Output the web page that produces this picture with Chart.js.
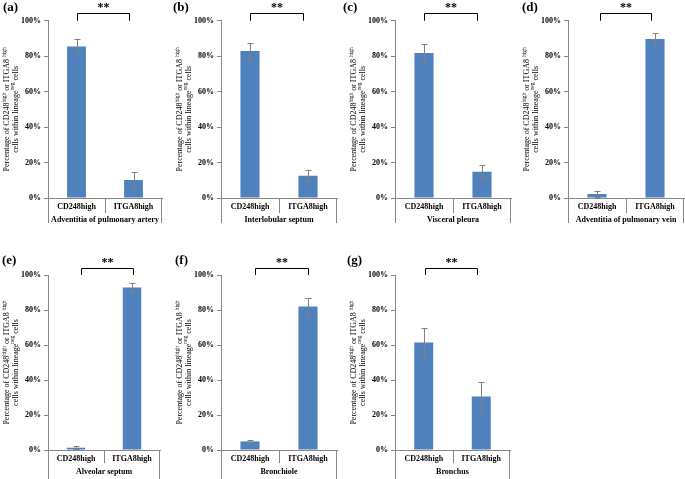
<!DOCTYPE html>
<html>
<head>
<meta charset="utf-8">
<script src="https://cdn.jsdelivr.net/npm/chart.js@4.4.1/dist/chart.umd.min.js"></script>
<style>
  html, body { margin: 0; padding: 0; background: #fff; }
  #wrap { position: relative; width: 685px; height: 479px; overflow: hidden; }
  #wrap canvas { position: absolute; }
</style>
</head>
<body>
<div id="wrap"></div>
<script>
// ---- data ----
const categories = ['CD248high', 'ITGA8high'];
const panelLetters = ['(a)', '(b)', '(c)', '(d)', '(e)', '(f)', '(g)'];
const regionNames = [
    'Adventitia of pulmonary artery',
    'Interlobular septum',
    'Visceral pleura',
    'Adventitia of pulmonary vein',
    'Alveolar septum',
    'Bronchiole',
    'Bronchus'
];
const cd248Mean = [85.5, 82.9, 81.8, 2.3, 1.3, 4.9, 61.5];
const cd248Err  = [4.2, 4.8, 5.1, 1.9, 0.8, 1.1, 8.5];
const itga8Mean = [10.2, 12.6, 14.8, 89.7, 92.8, 82.0, 30.6];
const itga8Err  = [4.3, 3.2, 3.6, 3.1, 2.4, 5.0, 8.3];
const significance = ['**', '**', '**', '**', '**', '**', '**'];
const yTicks = [0, 20, 40, 60, 80, 100];

// ---- where each panel sits on the page (canvas-local plot edges) ----
const panelBoxes = [
    { left: 0,   top: 0,   width: 170, height: 235, axisX: 48, plotRight: 162, plotTop: 20.7, plotBottom: 198, letterX: 3, bracket: [0.7, -4.3] },
    { left: 170, top: 0,   width: 172, height: 235, axisX: 51, plotRight: 167, plotTop: 20.7, plotBottom: 198, letterX: 3, bracket: [0, -4.7] },
    { left: 342, top: 0,   width: 172, height: 235, axisX: 53, plotRight: 169, plotTop: 20.7, plotBottom: 198, letterX: 1, bracket: [0, -5.5] },
    { left: 514, top: 0,   width: 171, height: 235, axisX: 54, plotRight: 170, plotTop: 20.7, plotBottom: 198, letterX: 8, bracket: [2.7, -4] },
    { left: 0,   top: 235, width: 170, height: 244, axisX: 48, plotRight: 160, plotTop: 40, plotBottom: 215, letterX: 2, bracket: [5, 0.7] },
    { left: 170, top: 235, width: 172, height: 244, axisX: 51, plotRight: 167, plotTop: 40, plotBottom: 215, letterX: 5, bracket: [5, 0] },
    { left: 342, top: 235, width: 172, height: 244, axisX: 53, plotRight: 168, plotTop: 40, plotBottom: 215, letterX: 5, bracket: [1.7, -4.3] }
];

const SERIF = "'Liberation Serif', 'DejaVu Serif', serif";
const AXIS_GREY = '#868686';
const BAR_BLUE = '#4F81BD';

// y title pieces (with superscripts)
const titleLine1 = [
    { t: 'Percentage of CD248', sup: false },
    { t: 'high', sup: true },
    { t: ' or ITGA8 ', sup: false },
    { t: 'high', sup: true }
];
const titleLine2 = [
    { t: 'cells within lineage', sup: false },
    { t: 'neg', sup: true },
    { t: ' cells', sup: false }
];

function drawRich(ctx, parts, y) {
    const big = '8px ' + SERIF;
    const small = '5.5px ' + SERIF;
    let total = 0;
    parts.forEach(p => {
        ctx.font = p.sup ? small : big;
        total += ctx.measureText(p.t).width;
    });
    let x = -total / 2;
    parts.forEach(p => {
        ctx.font = p.sup ? small : big;
        ctx.fillText(p.t, x, p.sup ? y - 2.5 : y);
        x += ctx.measureText(p.t).width;
    });
}

// extra drawing: error bars, category box, bracket, titles
function makeDecor(idx) {
    const box = panelBoxes[idx];
    const errs = [cd248Err[idx], itga8Err[idx]];
    return {
        id: 'decor' + idx,
        afterDatasetsDraw(chart) {
            const ctx = chart.ctx;
            const ys = chart.scales.y;
            const meta = chart.getDatasetMeta(0);
            const vals = chart.data.datasets[0].data;
            ctx.save();
            ctx.strokeStyle = '#808080';
            ctx.lineWidth = 1;
            meta.data.forEach((bar, i) => {
                const x = Math.round(bar.x) + 0.5;
                const yt = Math.round(ys.getPixelForValue(vals[i] + errs[i])) + 0.5;
                const yb = Math.round(ys.getPixelForValue(Math.max(vals[i] - errs[i], 0))) + 0.5;
                ctx.beginPath();
                ctx.moveTo(x, yt); ctx.lineTo(x, yb);
                ctx.moveTo(x - 3, yt); ctx.lineTo(x + 3, yt);
                ctx.moveTo(x - 3, yb); ctx.lineTo(x + 3, yb);
                ctx.stroke();
            });
            ctx.restore();
        },
        afterDraw(chart) {
            const ctx = chart.ctx;
            const area = chart.chartArea;
            const meta = chart.getDatasetMeta(0);
            const x0 = meta.data[0].x, x1 = meta.data[1].x;
            const topRow = box.top === 0;
            ctx.save();

            // category box lines below the x axis
            ctx.strokeStyle = AXIS_GREY;
            ctx.lineWidth = 1;
            const sepX = Math.round((x0 + x1) / 2) + 0.5;
            const outer = topRow ? 25 : 29;
            ctx.beginPath();
            ctx.moveTo(sepX, area.bottom); ctx.lineTo(sepX, area.bottom + (topRow ? 15 : 13));
            ctx.moveTo(Math.round(area.left) + 0.5, area.bottom); ctx.lineTo(Math.round(area.left) + 0.5, area.bottom + outer);
            ctx.moveTo(Math.round(area.right) - 0.5, area.bottom); ctx.lineTo(Math.round(area.right) - 0.5, area.bottom + outer);
            ctx.stroke();

            // region name
            ctx.fillStyle = '#000';
            ctx.font = 'bold 8px ' + SERIF;
            ctx.textAlign = 'center';
            ctx.textBaseline = 'middle';
            ctx.fillText(regionNames[idx], (area.left + area.right) / 2, area.bottom + 22);

            // significance bracket
            const bl = Math.round(x0 + box.bracket[0]) + 0.5;
            const br = Math.round(x1 + box.bracket[1]) + 0.5;
            const by = Math.round(area.top - 7.4) + 0.5;
            ctx.strokeStyle = '#000';
            ctx.beginPath();
            ctx.moveTo(bl, area.top); ctx.lineTo(bl, by); ctx.lineTo(br, by); ctx.lineTo(br, area.top);
            ctx.stroke();
            ctx.font = 'bold 12px ' + SERIF;
            ctx.fillText(significance[idx], (bl + br) / 2, by - 6);

            // panel letter
            ctx.font = 'bold 13px ' + SERIF;
            ctx.textAlign = 'left';
            ctx.fillText(panelLetters[idx], box.letterX, topRow ? 8 : 26);

            // rotated y title, two lines
            ctx.translate(area.left - 37, (area.top + area.bottom) / 2);
            ctx.rotate(-Math.PI / 2);
            ctx.textAlign = 'left';
            drawRich(ctx, titleLine1, -4);
            drawRich(ctx, titleLine2, 4.5);
            ctx.restore();
        }
    };
}

const wrap = document.getElementById('wrap');
panelBoxes.forEach((box, idx) => {
    const cv = document.createElement('canvas');
    cv.width = box.width;
    cv.height = box.height;
    cv.style.left = box.left + 'px';
    cv.style.top = box.top + 'px';
    cv.style.width = box.width + 'px';
    cv.style.height = box.height + 'px';
    wrap.appendChild(cv);

    new Chart(cv.getContext('2d'), {
        type: 'bar',
        data: {
            labels: categories,
            datasets: [{
                data: [cd248Mean[idx], itga8Mean[idx]],
                backgroundColor: BAR_BLUE,
                borderWidth: 0,
                categoryPercentage: 1,
                barPercentage: 0.33
            }]
        },
        options: {
            responsive: false,
            animation: false,
            devicePixelRatio: 1,
            layout: {
                padding: { left: 0, top: box.plotTop, right: box.width - box.plotRight, bottom: 0 }
            },
            plugins: {
                legend: { display: false },
                tooltip: { enabled: false }
            },
            scales: {
                x: {
                    grid: { display: false, drawTicks: false },
                    border: { display: true, color: AXIS_GREY },
                    ticks: {
                        color: '#000',
                        font: { family: SERIF, size: 8, weight: 'bold' },
                        padding: 4,
                        maxRotation: 0,
                        autoSkip: false
                    },
                    afterFit: (s) => { s.height = box.height - box.plotBottom; }
                },
                y: {
                    min: yTicks[0],
                    max: yTicks[yTicks.length - 1],
                    grid: { display: true, drawOnChartArea: false, drawTicks: true, tickLength: 4, color: AXIS_GREY },
                    border: { display: true, color: AXIS_GREY },
                    ticks: {
                        stepSize: yTicks[1] - yTicks[0],
                        color: '#000',
                        padding: 3,
                        font: { family: SERIF, size: 8, weight: 'bold' },
                        callback: (v) => v + '%'
                    },
                    afterFit: (s) => { s.width = box.axisX; }
                }
            }
        },
        plugins: [makeDecor(idx)]
    });
});
</script>
</body>
</html>
